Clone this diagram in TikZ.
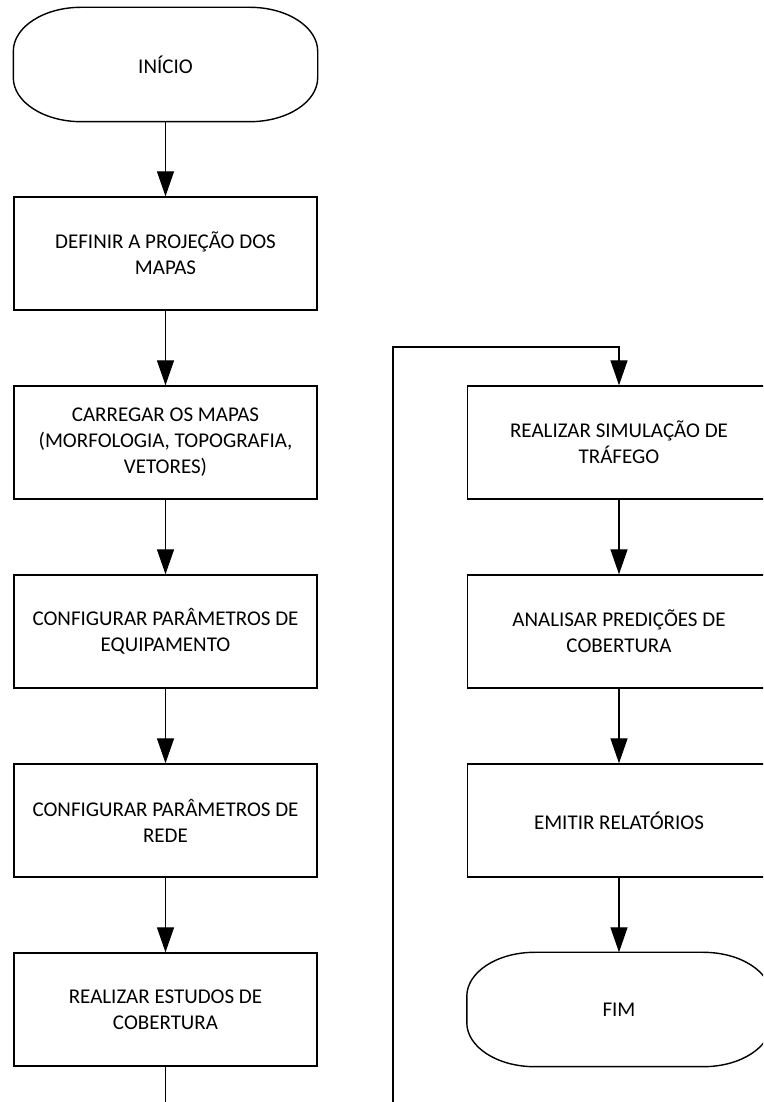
\documentclass[tikz,border=0pt]{standalone}
\usepackage{fontspec}
\setmainfont{Carlito}
\usetikzlibrary{arrows.meta}
\tikzset{
  proc/.style={draw, line width=1.4pt, minimum width=303pt, minimum height=113pt,
    align=center, inner sep=0pt, font=\fontsize{21}{26}\selectfont},
  termnode/.style={proc, draw=none},
  conn/.style={line width=1.4pt, -{Triangle[length=25pt,width=17pt]}},
  plainline/.style={line width=1.4pt},
  outline/.style={line width=1.4pt},
}
\newcommand\termoutline[1]{%
  \draw[outline] ([xshift=68pt]#1.north west) -- ([xshift=-68pt]#1.north east)
    arc[start angle=90,end angle=0,x radius=68pt,y radius=44pt]
    -- ([yshift=44pt]#1.south east)
    arc[start angle=0,end angle=-90,x radius=68pt,y radius=44pt]
    -- ([xshift=68pt]#1.south west)
    arc[start angle=270,end angle=180,x radius=68pt,y radius=44pt]
    -- ([yshift=-44pt]#1.north west)
    arc[start angle=180,end angle=90,x radius=68pt,y radius=44pt] -- cycle;}
\begin{document}
\begin{tikzpicture}[x=1pt,y=1pt]
\useasboundingbox (0,0) rectangle (763,1102);
\clip (0,0) rectangle (763,1102);
% left column
\node[termnode] (start) at (165.5,1037.5) {INÍCIO};
\termoutline{start}
\node[proc] (defn) at (165.5,848.5) {DEFINIR A PROJEÇÃO DOS\\MAPAS};
\node[proc] (carr) at (165.5,659.5) {CARREGAR OS MAPAS\\(MORFOLOGIA, TOPOGRAFIA,\\VETORES)};
\node[proc] (equip) at (165.5,470.5) {CONFIGURAR PARÂMETROS DE\\EQUIPAMENTO};
\node[proc] (rede) at (165.5,281.5) {CONFIGURAR PARÂMETROS DE\\REDE};
\node[proc] (estudos) at (165.5,92.5) {REALIZAR ESTUDOS DE\\COBERTURA};
% right column
\node[proc] (sim) at (619,659.5) {REALIZAR SIMULAÇÃO DE\\TRÁFEGO};
\node[proc] (anal) at (619,470.5) {ANALISAR PREDIÇÕES DE\\COBERTURA};
\node[proc] (emit) at (619,281.5) {EMITIR RELATÓRIOS};
\node[termnode] (fim) at (619,92.5) {FIM};
\termoutline{fim}
% connectors
\draw[conn] (start) -- (defn);
\draw[conn] (defn) -- (carr);
\draw[conn] (carr) -- (equip);
\draw[conn] (equip) -- (rede);
\draw[conn] (rede) -- (estudos);
\coordinate (bot1) at (165.5,0);
\draw[plainline] (estudos) -- (bot1);
\coordinate (loopA) at (393,0);
\coordinate (loopC) at (619,755);
\draw[conn] (loopA) |- (loopC) -- (sim);
\draw[conn] (sim) -- (anal);
\draw[conn] (anal) -- (emit);
\draw[conn] (emit) -- (fim);
\end{tikzpicture}
\end{document}
